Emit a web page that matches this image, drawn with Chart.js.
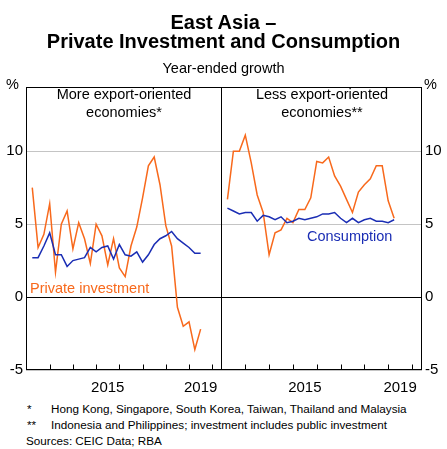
<!DOCTYPE html>
<html>
<head>
<meta charset="utf-8">
<script src="https://cdn.jsdelivr.net/npm/chart.js@4.4.0/dist/chart.umd.min.js"></script>
<style>
  body { margin: 0; background: #fff; }
  #wrap { position: relative; width: 447px; height: 449px; overflow: hidden;
          font-family: "Liberation Sans", Arial, sans-serif; color: #000; }
  #wrap canvas { position: absolute; top: 0; }
  .t { position: absolute; white-space: nowrap; }
</style>
</head>
<body>
<div id="wrap">
  <canvas id="cLeft" width="224" height="400" style="left:0"></canvas>
  <canvas id="cRight" width="226" height="400" style="left:221px"></canvas>

  <div class="t" style="left:0;width:447px;text-align:center;top:12px;font-size:20px;line-height:20px;font-weight:bold">East Asia –</div>
  <div class="t" style="left:0;width:447px;text-align:center;top:31px;font-size:20px;line-height:20px;font-weight:bold">Private Investment and Consumption</div>
  <div class="t" style="left:0;width:447px;text-align:center;top:60.5px;font-size:14.5px;line-height:14.5px">Year-ended growth</div>

  <div class="t" style="left:6px;top:77px;font-size:14.5px;line-height:14.5px">%</div>
  <div class="t" style="left:424px;top:77px;font-size:14.5px;line-height:14.5px">%</div>

  <div class="t" style="left:26px;width:196px;text-align:center;top:86px;font-size:14.5px;line-height:17.7px">More export-oriented<br>economies*</div>
  <div class="t" style="left:222px;width:200px;text-align:center;top:86px;font-size:14.5px;line-height:17.7px">Less export-oriented<br>economies**</div>

  <div class="t" id="lblInv" style="left:30px;top:280.5px;font-size:14.5px;line-height:14.5px">Private investment</div>
  <div class="t" id="lblCons" style="left:307px;top:228.5px;font-size:14.5px;line-height:14.5px">Consumption</div>

  <div class="t" style="left:27px;top:402.5px;font-size:11.7px;line-height:11.7px">*</div>
  <div class="t" style="left:51px;top:402.5px;font-size:11.7px;line-height:11.7px">Hong Kong, Singapore, South Korea, Taiwan, Thailand and Malaysia</div>
  <div class="t" style="left:27px;top:419px;font-size:11.7px;line-height:11.7px">**</div>
  <div class="t" style="left:51px;top:419px;font-size:11.7px;line-height:11.7px">Indonesia and Philippines; investment includes public investment</div>
  <div class="t" style="left:26px;top:435px;font-size:11.7px;line-height:11.7px">Sources: CEIC Data; RBA</div>
</div>

<script>
  // quarterly series, first observation is 2012 Q1
  const firstYear = 2012;

  // More export-oriented economies (2012 Q1 - 2019 Q2)
  const moreInvestment = [7.5, 3.4, 4.3, 6.4, 1.7, 5.0, 5.9, 3.3, 5.1, 4.0,
                          2.3, 5.0, 4.2, 2.2, 4.0, 2.0, 1.4, 3.5, 4.8, 6.8,
                          9.0, 9.6, 7.7, 4.9, 3.5, -0.7, -2.0, -1.7, -3.6, -2.2];
  const moreConsumption = [2.7, 2.7, 3.5, 4.4, 2.9, 2.9, 2.1, 2.5, 2.6, 2.7,
                           3.4, 3.1, 3.4, 3.5, 2.6, 3.6, 2.9, 2.8, 3.1, 2.4,
                           2.9, 3.6, 4.0, 4.2, 4.5, 4.0, 3.7, 3.4, 3.0, 3.0];

  // Less export-oriented economies (2012 Q1 - 2019 Q1)
  const lessInvestment = [6.7, 10.0, 10.0, 11.1, 9.2, 7.0, 5.8, 2.9, 4.4, 4.6,
                          5.4, 5.1, 6.0, 6.0, 6.8, 9.3, 9.2, 9.6, 8.3, 7.6,
                          6.7, 5.8, 7.2, 7.7, 8.1, 9.0, 9.0, 6.6, 5.4];
  const lessConsumption = [6.1, 5.9, 5.7, 5.8, 5.8, 5.2, 5.6, 5.5, 5.3, 5.5,
                           5.1, 5.2, 5.4, 5.3, 5.4, 5.5, 5.7, 5.7, 5.8, 5.4,
                           5.1, 5.4, 5.1, 5.3, 5.4, 5.2, 5.2, 5.1, 5.3];

  const yearLabels = [2015, 2019];
  const yearTicks = [2013, 2014, 2015, 2016, 2017, 2018, 2019, 2020];
  const yTicks = [-5, 0, 5, 10];

  const orange = '#f8691c';
  const blue = '#1a2db4';
  document.getElementById('lblInv').style.color = orange;
  document.getElementById('lblCons').style.color = blue;

  const tickFont = { family: '"Liberation Sans", Arial, sans-serif', size: 15 };

  // quarter index -> decimal year (plotted at end of quarter)
  function toPoints(values) {
    return values.map((v, i) => ({ x: firstYear + (i + 1) * 0.25, y: v }));
  }

  // frame round the plot area plus short inward year ticks
  const framePlugin = {
    id: 'frame',
    afterDatasetsDraw(chart) {
      const { ctx, chartArea: a, scales } = chart;
      ctx.save();
      ctx.strokeStyle = '#000';
      ctx.lineWidth = 1;
      const l = Math.round(a.left) + 0.5, r = Math.round(a.right) - 0.5;
      const t = Math.round(a.top) + 0.5, b = Math.round(a.bottom) - 0.5;
      ctx.strokeRect(l, t, r - l, b - t);
      ctx.beginPath();
      yearTicks.forEach(yr => {
        const x = Math.round(scales.x.getPixelForValue(yr)) + 0.5;
        ctx.moveTo(x, b);
        ctx.lineTo(x, b - 5);
      });
      ctx.stroke();
      ctx.restore();
    }
  };

  function makePanel(id, investment, consumption, side) {
    new Chart(document.getElementById(id), {
      type: 'line',
      data: {
        datasets: [
          { data: toPoints(consumption), borderColor: blue, borderWidth: 1.5 },
          { data: toPoints(investment), borderColor: orange, borderWidth: 1.5 }
        ]
      },
      options: {
        responsive: false,
        animation: false,
        layout: { padding: { top: 87, bottom: 0, left: 0, right: side === 'left' ? 2 : 0 } },
        plugins: { legend: { display: false }, tooltip: { enabled: false } },
        elements: { point: { radius: 0 }, line: { tension: 0 } },
        scales: {
          x: {
            type: 'linear',
            min: 2011.98,
            max: 2020.42,
            afterBuildTicks: s => { s.ticks = yearLabels.map(y => ({ value: y + 0.5 })); },
            afterFit: s => { s.height = 30; },
            grid: { display: false },
            border: { display: false },
            ticks: {
              padding: 1, font: tickFont, color: '#000',
              maxRotation: 0, autoSkip: false,
              callback: v => String(Math.floor(v))
            }
          },
          y: {
            position: side,
            min: -5,
            max: 14.4,
            afterBuildTicks: s => { s.ticks = yTicks.map(v => ({ value: v })); },
            afterFit: s => { s.width = side === 'left' ? 26 : 25; },
            grid: {
              drawTicks: false,
              color: c => (c.tick && c.tick.value === 0 ? '#000' : '#c4c4c4')
            },
            border: { display: false },
            ticks: { padding: 3, font: tickFont, color: '#000' }
          }
        }
      },
      plugins: [framePlugin]
    });
  }

  makePanel('cLeft', moreInvestment, moreConsumption, 'left');
  makePanel('cRight', lessInvestment, lessConsumption, 'right');
</script>
</body>
</html>
